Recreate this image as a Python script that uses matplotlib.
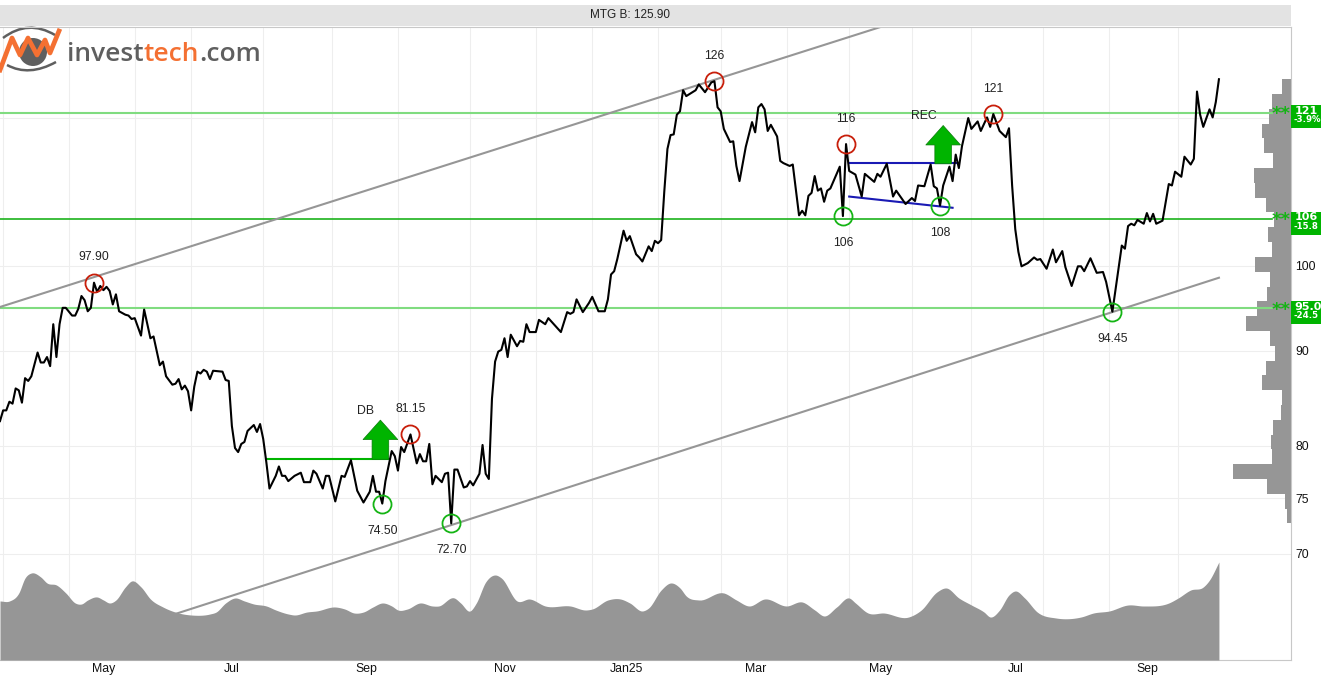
import numpy as np
import matplotlib
matplotlib.use('Agg')
import matplotlib.pyplot as plt
from matplotlib.patches import Rectangle, Circle, PathPatch
from matplotlib.path import Path
from matplotlib.ticker import NullLocator

plt.rcParams['font.family'] = ['Liberation Sans', 'DejaVu Sans']

# Closing prices (session number, price)
sessions = [
    0, 1, 2, 3, 4, 5, 6, 7, 8, 9, 10, 12, 13, 14, 15, 16, 17, 18, 19, 20, 21, 23, 24, 25, 26, 27, 28, 29, 30, 31,
    32, 33, 34, 35, 36, 37, 38, 40, 41, 42, 43, 45, 46, 48, 49, 51, 52, 53, 55, 56, 57, 58, 59, 60, 61, 62, 63, 64,
    65, 66, 67, 68, 71, 72, 73, 74, 75, 76, 77, 78, 79, 81, 82, 83, 84, 85, 86, 88, 89, 90, 91, 92, 94, 96, 97, 99,
    100, 101, 103, 104, 105, 107, 109, 110, 112, 114, 116, 118, 119, 120, 121, 122, 123, 125, 126, 127, 128, 129,
    131, 133, 134, 135, 136, 137, 138, 139, 141, 142, 143, 144, 145, 146, 148, 149, 150, 151, 153, 154, 155, 156,
    157, 158, 159, 160, 161, 162, 163, 165, 166, 167, 168, 169, 171, 172, 174, 175, 177, 179, 181, 182, 183, 184,
    186, 188, 189, 191, 193, 194, 195, 196, 197, 199, 200, 201, 203, 204, 205, 207, 208, 209, 210, 211, 212, 213,
    214, 215, 216, 217, 218, 219, 220, 222, 223, 224, 225, 227, 228, 229, 230, 231, 233, 234, 235, 236, 238, 240,
    241, 242, 243, 244, 245, 246, 248, 249, 250, 252, 253, 255, 256, 257, 258, 259, 260, 261, 262, 263, 264, 265,
    268, 269, 270, 271, 273, 275, 276, 279, 280, 281, 283, 285, 286, 289, 291, 292, 293, 295, 297, 298, 299, 300,
    301, 303, 304, 305, 306, 307, 309, 310, 312, 313, 315, 316, 317, 319, 321, 322, 323, 324, 325, 326, 328, 330,
    331, 332, 334, 336, 337, 339, 340, 342, 344, 345, 346, 348, 350, 352, 353, 355, 358, 359, 360, 361, 362, 363,
    365, 366, 367, 368, 369, 371, 373, 374, 375, 377, 378, 380, 381, 382, 383, 384, 386, 387, 388, 389]
prices = [
    82.5, 83.6, 83.6, 84.5, 84.3, 85.9, 85.7, 84.4, 87.0, 86.7, 87.2, 89.8, 88.7, 88.7, 89.3, 88.3, 93.0, 89.3, 93.0,
    94.9, 94.9, 94.0, 94.0, 94.8, 96.3, 95.8, 94.5, 94.9, 97.9, 96.8, 97.5, 97.0, 97.4, 96.9, 95.3, 96.5, 94.5, 94.1,
    94.0, 93.6, 93.7, 91.7, 94.7, 91.4, 91.6, 88.4, 88.8, 87.2, 86.3, 86.4, 86.9, 85.8, 86.2, 85.6, 83.6, 86.1, 87.7,
    87.5, 87.9, 87.7, 86.9, 87.8, 87.7, 86.8, 86.7, 82.0, 79.8, 79.4, 80.2, 80.4, 81.5, 82.1, 81.4, 82.2, 80.7, 78.4,
    75.9, 77.1, 78.0, 77.1, 77.1, 76.6, 77.1, 77.4, 76.5, 76.5, 77.6, 77.3, 75.9, 77.1, 77.1, 74.7, 77.1, 77.0, 78.6,
    75.7, 74.6, 75.6, 77.1, 75.6, 75.6, 74.5, 76.6, 79.5, 79.0, 77.6, 79.9, 79.4, 81.15, 78.3, 79.2, 78.5, 78.5, 80.2,
    76.3, 77.1, 76.5, 77.3, 77.4, 72.7, 77.7, 77.7, 76.0, 76.1, 76.6, 76.2, 77.3, 80.1, 77.3, 76.8, 84.8, 88.8, 89.9,
    90.1, 91.4, 89.3, 91.8, 90.5, 91.1, 91.0, 93.0, 92.1, 92.1, 93.5, 93.0, 93.7, 92.9, 92.1, 94.4, 94.2, 94.4, 95.9,
    94.4, 95.5, 96.2, 94.5, 94.5, 95.9, 98.9, 99.3, 100.8, 104.4, 103.1, 103.7, 101.4, 101.0, 100.5, 102.4, 101.8,
    103.1, 102.8, 103.2, 109.6, 115.5, 117.5, 117.6, 120.5, 121.0, 124.2, 123.3, 123.6, 124.2, 125.1, 124.5, 123.9,
    125.4, 125.6, 121.6, 121.0, 118.4, 116.5, 116.6, 113.1, 111.0, 115.8, 119.4, 117.9, 121.6, 122.1, 121.3, 118.1,
    119.0, 117.3, 113.8, 113.5, 113.1, 113.3, 106.4, 107.0, 106.4, 109.0, 109.4, 111.7, 109.7, 110.0, 108.2, 109.7,
    110.0, 113.0, 106.3, 116.2, 112.4, 111.9, 108.9, 112.0, 110.9, 112.0, 111.6, 113.4, 108.9, 109.7, 107.9, 108.7,
    108.3, 110.4, 110.3, 113.3, 110.3, 110.0, 107.7, 110.4, 113.0, 111.0, 114.7, 112.8, 115.9, 120.0, 118.4, 119.5,
    118.1, 120.1, 118.7, 120.6, 118.1, 117.2, 118.5, 110.4, 104.6, 101.7, 99.9, 100.3, 101.0, 100.7, 100.8, 99.6,
    102.0, 100.4, 101.8, 99.8, 97.5, 99.9, 99.9, 99.3, 100.9, 99.1, 99.2, 98.0, 94.45, 102.5, 102.1, 105.0, 105.3,
    105.1, 105.8, 105.3, 106.7, 105.6, 106.6, 105.3, 105.7, 110.6, 110.4, 112.3, 111.6, 114.4, 113.3, 114.1, 124.0,
    120.5, 118.7, 121.3, 120.1, 122.4, 125.9]

# Smoothed volume panel
vol_sessions = [
    0, 3, 6, 8, 10, 13, 15, 18, 21, 24, 26, 28, 31, 33, 35, 37, 40, 42, 45, 48, 52, 57, 61, 67, 69, 72, 75, 78, 81,
    85, 88, 92, 94, 98, 101, 107, 110, 113, 116, 119, 122, 125, 127, 130, 134, 138, 140, 145, 147, 150, 152, 155,
    158, 160, 165, 169, 174, 182, 187, 189, 194, 198, 201, 205, 207, 211, 214, 217, 219, 223, 231, 235, 239, 244,
    251, 256, 260, 263, 267, 271, 273, 277, 282, 290, 294, 299, 302, 306, 310, 314, 316, 319, 322, 324, 327, 331,
    337, 345, 349, 354, 360, 365, 373, 376, 380, 384, 386, 389]
volume = [
    59, 59, 67, 82, 87, 83, 77, 75, 67, 57, 56, 60, 63, 60, 57, 60, 73, 79, 73, 61, 53, 47, 45, 46, 48, 57, 62, 59,
    56, 54, 50, 46, 45, 48, 49, 53, 51, 47, 48, 53, 57, 54, 50, 51, 57, 54, 54, 62, 57, 49, 57, 78, 85, 82, 59, 61,
    54, 54, 50, 51, 60, 61, 57, 49, 52, 70, 77, 72, 64, 60, 67, 60, 54, 61, 54, 58, 50, 44, 53, 62, 57, 47, 47, 43,
    50, 68, 72, 62, 55, 48, 43, 50, 65, 69, 62, 48, 42, 43, 47, 49, 55, 54, 57, 62, 70, 73, 80, 98]

# Volume by price, top bin first
profile = [8.7, 19, 22, 29, 27, 18, 37, 36, 25, 17, 23, 19, 36, 21, 24, 34, 45, 21.5, 16.5, 25, 29, 9, 10, 18, 20,
           19, 58, 24, 6, 4]

month_starts = [1, 22, 43, 61, 84, 106, 127, 150, 171, 189, 210, 230, 251, 271, 291, 310, 333, 354, 376]
month_label_pos = [33, 74, 117, 161, 200, 241, 281, 324, 366]
month_labels = ['May', 'Jul', 'Sep', 'Nov', 'Jan25', 'Mar', 'May', 'Jul', 'Sep']
grid_prices = [70, 75, 80, 90, 100, 120]
price_ticks = [70, 75, 80, 90, 100]

support_levels = [120.8, 105.9, 94.9]
support_colors = ['#80dc80', '#1db31d', '#80dc80']
support_pct = ['-3.9%', '-15.8', '-24.5']
support_text = ['121', '106', '95.0']

peak_s = [30, 131, 228, 270, 317]
peak_p = [97.9, 81.15, 125.6, 116.2, 120.6]
peak_txt = ['97.90', '81.15', '126', '116', '121']
trough_s = [122, 144, 269, 300, 355]
trough_p = [74.5, 72.7, 106.3, 107.7, 94.45]
trough_txt = ['74.50', '72.70', '106', '108', '94.45']

fig = plt.figure(figsize=(13.21, 6.8), dpi=100)
W, H = 1321.0, 680.0
rect = [0, 20 / H, 1291 / W, 633 / H]

# back axes holds the grid and the volume-by-price bars
ax = fig.add_axes(rect)
ax.set_yscale('log')
ax.set_ylim(61.4, 134.3)
ax.set_xlim(0, 412)
ax.patch.set_visible(False)
ax.set_zorder(2)

ax_prof = ax.twiny()
ax_prof.set_zorder(1)
ax_prof.patch.set_visible(True)
ax_prof.set_xlim(1291, 0)
edges = np.geomspace(125.9, 72.7, 31)
for g in grid_prices:
    ax_prof.axhline(g, color='#eeeeee', lw=0.8, zorder=0)
ax_prof.barh(edges[1:], profile, height=edges[:-1] - edges[1:], align='edge', color='#969696', zorder=1)
ax_prof.xaxis.set_visible(False)
for s in ax_prof.spines.values():
    s.set_visible(False)

ax.set_xticks(month_starts, minor=True)
ax.set_xticks(month_label_pos, month_labels)
ax.grid(True, which='minor', axis='x', color='#eeeeee', lw=0.8)
ax.yaxis.tick_right()
ax.yaxis.set_minor_locator(NullLocator())
ax.set_yticks(price_ticks, [str(t) for t in price_ticks])
ax.tick_params(which='both', length=0)
ax.tick_params(axis='x', labelsize=8.8, pad=2, labelcolor='#111111')
ax.tick_params(axis='y', labelsize=8.8, pad=3, labelcolor='#111111')
ax.yaxis.set_minor_formatter(plt.NullFormatter())
for side in ['top', 'left']:
    ax.spines[side].set_visible(False)
for side in ['right', 'bottom']:
    ax.spines[side].set_color('#c8c8c8')

# support / resistance lines
for lvl, col in zip(support_levels, support_colors):
    ax.plot([0, 406], [lvl, lvl], color=col, lw=1.5 if col == '#80dc80' else 1.2, zorder=2)

# trend channel
ax.plot([0, 281], [95.0, 134.3], color='#969696', lw=1.5, zorder=2)
ax.plot([56, 389], [65.0, 98.5], color='#969696', lw=1.5, zorder=2)

# formations
ax.plot([85, 124], [78.7, 78.7], color='#00b400', lw=1.5, zorder=3)
ax.plot([271, 305], [113.5, 113.5], color='#1a1ab4', lw=1.5, zorder=3)
ax.plot([271, 304], [108.9, 107.4], color='#1a1ab4', lw=1.5, zorder=3)

ax.plot(sessions, prices, color='black', lw=1.5, zorder=4)

ax.plot(peak_s, peak_p, 'o', ms=13, mfc='none', mec='#c81e0a', mew=1.3, zorder=5)
ax.plot(trough_s, trough_p, 'o', ms=13, mfc='none', mec='#14b414', mew=1.3, zorder=5)
for s, p, t in zip(peak_s, peak_p, peak_txt):
    ax.annotate(t, (s, p), xytext=(0, 18.2), textcoords='offset points', ha='center', va='center',
                fontsize=8.8, color='#222222', zorder=6)
for s, p, t in zip(trough_s, trough_p, trough_txt):
    ax.annotate(t, (s, p), xytext=(0, -19.5), textcoords='offset points', ha='center', va='center',
                fontsize=8.8, color='#222222', zorder=6)

# buy signal arrows
for s, base, tip, name, nx, ny in [(121.4, 78.7, 82.6, 'DB', -10.5, 6.5), (301, 113.4, 118.9, 'REC', -14, 6.5)]:
    ax.annotate('', xy=(s, tip), xytext=(s, base),
                arrowprops=dict(width=12, headwidth=25, headlength=14, shrink=0,
                                facecolor='#00b400', edgecolor='#0a7a0a', lw=0.5), zorder=5)
    ax.annotate(name, (s, tip), xytext=(nx, ny), textcoords='offset points', ha='center', va='center',
                fontsize=8.8, color='#222222', zorder=6)

# volume panel at the bottom, drawn as a smooth curve through the read values
ax_vol = fig.add_axes([0, 20 / H, 1291 / W, 100 / H], sharex=ax)
ax_vol.set_zorder(3)
ax_vol.patch.set_visible(False)
vx = np.array(vol_sessions, dtype=float)
vy = np.array(volume, dtype=float)
slopes = np.gradient(vy, vx)
curve_x, curve_y = [], []
for i in range(len(vx) - 1):
    h = vx[i + 1] - vx[i]
    u = np.linspace(0, 1, 12)
    curve_x.append(vx[i] + u * h)
    curve_y.append((2 * u**3 - 3 * u**2 + 1) * vy[i] + (u**3 - 2 * u**2 + u) * h * slopes[i]
                   + (-2 * u**3 + 3 * u**2) * vy[i + 1] + (u**3 - u**2) * h * slopes[i + 1])
ax_vol.fill_between(np.concatenate(curve_x), np.concatenate(curve_y), 0, color='#969696', lw=0)
ax_vol.set_ylim(0, 100)
ax_vol.axis('off')

# header, logo and the level tags, placed in pixels
top = fig.add_axes([0, 0, 1, 1])
top.set_zorder(4)
top.set_xlim(0, W)
top.set_ylim(H, 0)
top.axis('off')
top.add_patch(Rectangle((0, 5), 1291, 21, fc='#e3e3e3', ec='none'))
top.plot([0, 1291], [26.5, 26.5], color='#c8c8c8', lw=0.8)
top.text(630, 15.5, 'MTG B: 125.90', ha='center', va='center', fontsize=8.5, color='#222222')

for lvl_y, t, pct in zip([105, 212, 301], support_text, support_pct):
    top.add_patch(Rectangle((1291, lvl_y), 30, 23, fc='#00b400', ec='none'))
    top.text(1294.5, lvl_y + 5.5, t, color='white', fontsize=8, fontweight='bold', family='DejaVu Sans',
             va='center')
    top.text(1293.5, lvl_y + 14.5, pct, color='white', fontsize=6.2, fontweight='bold', family='DejaVu Sans',
             va='center')
    top.text(1281.5, lvl_y + 8.5, '**', color='#14b414', fontsize=13, fontweight='bold', family='DejaVu Sans',
             ha='center', va='center')

# logo
top.add_patch(Circle((33, 52), 14, fc='#5f5f5f', ec='none'))
top.add_patch(PathPatch(Path([(3, 38), (28, 19), (55, 35)], [Path.MOVETO, Path.CURVE3, Path.CURVE3]),
                        fc='none', ec='#5f5f5f', lw=1.8))
top.add_patch(PathPatch(Path([(7, 65), (29, 77), (56, 62)], [Path.MOVETO, Path.CURVE3, Path.CURVE3]),
                        fc='none', ec='#5f5f5f', lw=1.8))
top.plot([0, 12, 20, 28, 37, 45, 50, 59], [70, 38, 55, 38, 55, 40, 53, 31], color='#f47032', lw=3.4)
t1 = top.text(67, 61, 'invest', fontsize=19, family='Open Sans', fontweight='semibold', color='#5f5f5f')
t2 = top.annotate('tech', xy=(1, 0), xycoords=t1, fontsize=19, family='Open Sans', fontweight='semibold',
                  color='#f47032', va='bottom')
top.annotate('.com', xy=(1, 0), xycoords=t2, fontsize=19, family='Open Sans', fontweight='semibold',
             color='#5f5f5f', va='bottom')

fig.savefig('out.png', dpi=100)
